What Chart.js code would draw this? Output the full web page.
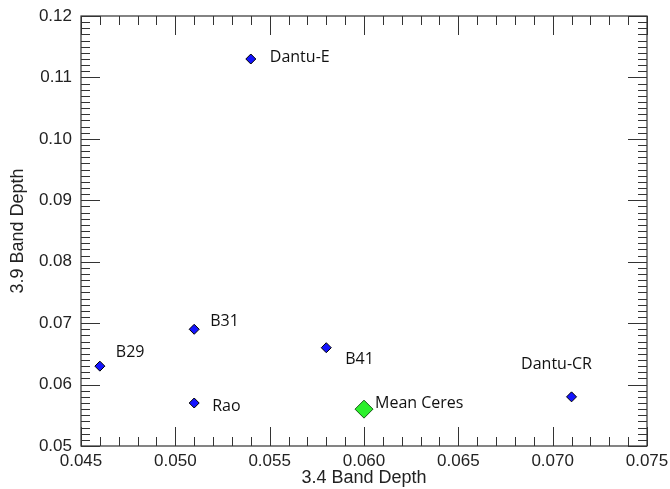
<!DOCTYPE html>
<html>
<head>
<meta charset="utf-8">
<script src="https://cdn.jsdelivr.net/npm/chart.js@4.4.1/dist/chart.umd.min.js"></script>
<style>
html,body{margin:0;padding:0;background:#fff;}
canvas{display:block;}
</style>
</head>
<body>
<canvas id="c" width="670" height="489"></canvas>
<script>
// ---- data ----
const sampleNames = ['Dantu-E', 'B31', 'B29', 'Rao', 'B41', 'Dantu-CR'];
const sampleX = [0.054, 0.051, 0.046, 0.051, 0.058, 0.071];
const sampleY = [0.113, 0.069, 0.063, 0.057, 0.066, 0.058];
const ceresNames = ['Mean Ceres'];
const ceresX = [0.060];
const ceresY = [0.056];
const xTickValues = [0.045, 0.050, 0.055, 0.060, 0.065, 0.070, 0.075];
const xTickLabels = ['0.045', '0.050', '0.055', '0.060', '0.065', '0.070', '0.075'];
const yTickValues = [0.05, 0.06, 0.07, 0.08, 0.09, 0.10, 0.11, 0.12];
const yTickLabels = ['0.05', '0.06', '0.07', '0.08', '0.09', '0.10', '0.11', '0.12'];
const xMinorStep = 0.001;
const yMinorStep = 0.001;

// ---- label placement styles (pixel offsets from each point) ----
const labelStyle = {
  'Dantu-E': {dx: 19, dy: -2, align: 'left'},
  'B31': {dx: 16, dy: -8, align: 'left'},
  'B29': {dx: 16, dy: -14, align: 'left'},
  'Rao': {dx: 18, dy: 3, align: 'left'},
  'B41': {dx: 19, dy: 12, align: 'left'},
  'Dantu-CR': {dx: -15, dy: -32, align: 'center'},
  'Mean Ceres': {dx: 11, dy: -6, align: 'left'}
};

const samplePts = sampleX.map((x, i) => ({x: x, y: sampleY[i], name: sampleNames[i]}));
const ceresPts = ceresX.map((x, i) => ({x: x, y: ceresY[i], name: ceresNames[i]}));

const framePlugin = {
  id: 'frame',
  afterDraw(chart) {
    const {ctx, chartArea: a, scales: {x, y}} = chart;
    ctx.save();
    ctx.strokeStyle = '#333';
    ctx.lineWidth = 1.2;
    ctx.strokeRect(a.left, a.top, a.right - a.left, a.bottom - a.top);
    ctx.lineWidth = 1;
    const major = 19, minor = 9;
    ctx.beginPath();
    const nx = Math.round((x.max - x.min) / xMinorStep);
    for (let i = 0; i <= nx; i++) {
      const v = x.min + i * xMinorStep;
      const px = Math.round(x.getPixelForValue(v)) + 0.5;
      const isMajor = xTickValues.some(t => Math.abs(t - v) < 1e-9);
      const L = isMajor ? major : minor;
      ctx.moveTo(px, a.bottom); ctx.lineTo(px, a.bottom - L);
      ctx.moveTo(px, a.top); ctx.lineTo(px, a.top + L);
    }
    const ny = Math.round((y.max - y.min) / yMinorStep);
    for (let i = 0; i <= ny; i++) {
      const v = y.min + i * yMinorStep;
      const py = Math.round(y.getPixelForValue(v)) + 0.5;
      const isMajor = yTickValues.some(t => Math.abs(t - v) < 1e-9);
      const L = isMajor ? major : minor;
      ctx.moveTo(a.left, py); ctx.lineTo(a.left + L, py);
      ctx.moveTo(a.right, py); ctx.lineTo(a.right - L, py);
    }
    ctx.stroke();
    ctx.restore();
  },
  afterDatasetsDraw(chart) {
    const {ctx} = chart;
    ctx.save();
    ctx.font = '16px "Open Sans"';
    ctx.fillStyle = '#111';
    ctx.textBaseline = 'middle';
    chart.data.datasets.forEach((ds, di) => {
      const meta = chart.getDatasetMeta(di);
      meta.data.forEach((el, i) => {
        const name = ds.data[i].name;
        const st = labelStyle[name] || {dx: 10, dy: 0, align: 'left'};
        ctx.textAlign = st.align;
        ctx.fillText(name, el.x + st.dx, el.y + st.dy);
      });
    });
    ctx.restore();
  }
};

new Chart(document.getElementById('c'), {
  type: 'scatter',
  data: {
    datasets: [
      {
        label: 'Samples',
        data: samplePts,
        pointStyle: 'rectRot',
        pointRadius: 5,
        backgroundColor: '#1414ff',
        borderColor: '#000',
        borderWidth: 1
      },
      {
        label: 'Mean Ceres',
        data: ceresPts,
        pointStyle: 'rectRot',
        pointRadius: 9,
        backgroundColor: '#2bf02b',
        borderColor: '#1a5a1a',
        borderWidth: 1
      }
    ]
  },
  options: {
    responsive: false,
    animation: false,
    layout: {padding: {left: 0, top: 16, right: 23, bottom: 0}},
    plugins: {legend: {display: false}, tooltip: {enabled: false}},
    scales: {
      x: {
        type: 'linear',
        min: 0.045, max: 0.075,
        grid: {display: false, drawTicks: false},
        border: {display: false},
        afterBuildTicks(s) { s.ticks = xTickValues.map(v => ({value: v})); },
        afterFit(s) { s.height = 43; s.paddingLeft = 0; s.paddingRight = 0; },
        ticks: {
          padding: 5,
          color: '#222',
          font: {family: '"Liberation Sans", Arial, sans-serif', size: 17},
          maxRotation: 0,
          callback: (v, i) => xTickLabels[i]
        },
        title: {
          display: true,
          text: '3.4 Band Depth',
          color: '#222',
          font: {family: '"Liberation Sans", Arial, sans-serif', size: 18},
          padding: {top: 0, bottom: 0}
        }
      },
      y: {
        type: 'linear',
        min: 0.05, max: 0.12,
        grid: {display: false, drawTicks: false},
        border: {display: false},
        afterBuildTicks(s) { s.ticks = yTickValues.map(v => ({value: v})); },
        afterFit(s) { s.width = 81; s.paddingTop = 0; s.paddingBottom = 0; },
        ticks: {
          padding: 9,
          color: '#222',
          font: {family: '"Liberation Sans", Arial, sans-serif', size: 17},
          callback: (v, i) => yTickLabels[i]
        },
        title: {
          display: true,
          text: '3.9 Band Depth',
          color: '#222',
          font: {family: '"Liberation Sans", Arial, sans-serif', size: 18},
          padding: {top: 7, bottom: 0}
        }
      }
    }
  },
  plugins: [framePlugin]
});
</script>
</body>
</html>
